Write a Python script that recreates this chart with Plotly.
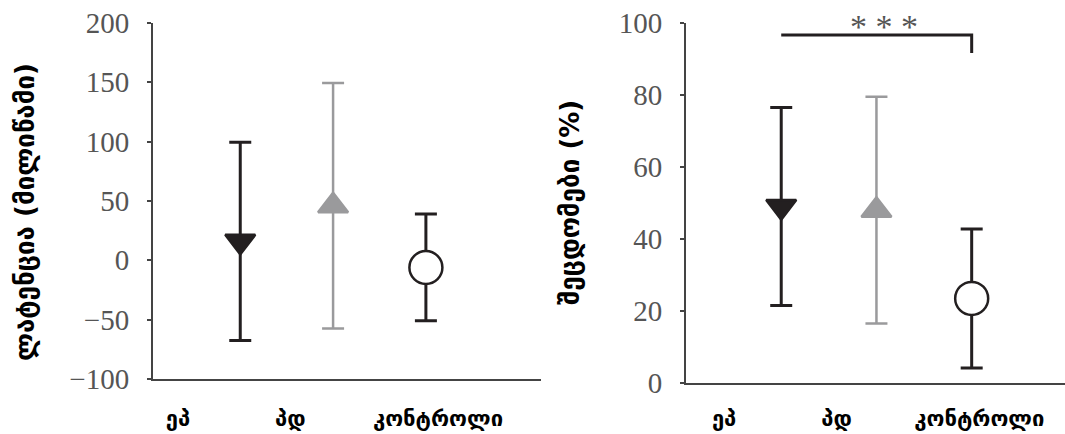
import plotly.graph_objects as go

# ---- data ----
groups = ["ეპ", "პდ", "კონტროლი"]
group_pos = [1, 2, 3]

latency_mean = [16, 46, -6]
latency_err = [83.5, 103.5, 45]

errors_mean = [49, 48, 23.5]
errors_err = [27.5, 31.5, 19.3]

left_label_pos = [0.33, 1.54, 3.13]
right_label_pos = [0.40, 1.58, 3.08]

left_ticks = [-100, -50, 0, 50, 100, 150, 200]
right_ticks = [0, 20, 40, 60, 80, 100]

bracket_x = [1, 3, 3]
bracket_y = [96.7, 96.7, 91.7]
star_x = 2.08
star_y = 99.8
star_text = "* * *"

left_title = "ლატენცია (მილიწამი)"
right_title = "შეცდომები (%)"

# ---- styles ----
BLACK = "#231f20"
GRAY = "#9a9a9c"
styles = [
    dict(symbol="triangle-down", color=BLACK, fill=BLACK, size=26, ew=3),
    dict(symbol="triangle-up", color=GRAY, fill=GRAY, size=26, ew=2.5),
    dict(symbol="circle", color=BLACK, fill="white", size=33, ew=3),
]

fig = go.Figure()


def add_panel(means, errs, xa, ya):
    for i in range(len(groups)):
        s = styles[i]
        fig.add_trace(go.Scatter(
            x=[group_pos[i]], y=[means[i]], mode="markers",
            xaxis=xa, yaxis=ya, showlegend=False, cliponaxis=False,
            error_y=dict(type="data", array=[errs[i]], visible=True,
                         color=s["color"], thickness=s["ew"], width=11),
            marker=dict(symbol=s["symbol"], size=s["size"], color=s["fill"],
                        line=dict(color=s["color"], width=2.5)),
        ))


add_panel(latency_mean, latency_err, "x", "y")
add_panel(errors_mean, errors_err, "x2", "y2")

fig.add_trace(go.Scatter(x=bracket_x, y=bracket_y, mode="lines", xaxis="x2", yaxis="y2",
                         line=dict(color=BLACK, width=3), showlegend=False))

W, H = 1065, 434
tickfont = dict(family="Liberation Serif, DejaVu Serif, serif", size=29, color="#555555")
GEO = "DejaVu Sans, sans-serif"
xfont = dict(family=GEO, size=22, color="black", weight="bold")
axis_common = dict(showline=True, linecolor="#444444", linewidth=2, showgrid=False,
                   zeroline=False, automargin=False)

fig.update_layout(
    width=W, height=H, margin=dict(l=0, r=0, t=0, b=0, pad=0),
    paper_bgcolor="white", plot_bgcolor="white",
    xaxis=dict(domain=[153 / W, 541 / W], range=[0.06, 4.24], tickvals=left_label_pos,
               ticktext=groups, ticks="", tickfont=xfont, ticklabelstandoff=19,
               anchor="y", **axis_common),
    yaxis=dict(domain=[(H - 379) / H, (H - 23) / H], range=[-100, 200], tickvals=left_ticks,
               ticks="outside", ticklen=4, tickcolor="#444444", tickwidth=1.5,
               tickfont=tickfont, ticklabelstandoff=12, anchor="x", **axis_common),
    xaxis2=dict(domain=[686 / W, 1], range=[0, 3.98], tickvals=right_label_pos,
                ticktext=groups, ticks="", tickfont=xfont, ticklabelstandoff=15,
                anchor="y2", **axis_common),
    yaxis2=dict(domain=[(H - 383) / H, (H - 23) / H], range=[0, 100], tickvals=right_ticks,
                ticks="outside", ticklen=4, tickcolor="#444444", tickwidth=1.5,
                tickfont=tickfont, ticklabelstandoff=12, anchor="x2", **axis_common),
    annotations=[
        dict(text=left_title, textangle=-90, xref="paper", yref="paper",
             x=25 / W, y=(H - 212) / H, xanchor="center", yanchor="middle", showarrow=False,
             font=dict(family=GEO, size=26, color="black", weight="bold")),
        dict(text=right_title, textangle=-90, xref="paper", yref="paper",
             x=570 / W, y=(H - 203) / H, xanchor="center", yanchor="middle", showarrow=False,
             font=dict(family=GEO, size=26, color="black", weight="bold")),
        dict(text=star_text, xref="x2", yref="y2", x=star_x, y=star_y, showarrow=False,
             yshift=-3,
             font=dict(family="Liberation Serif, serif", size=34, color="#555555")),
    ],
)

fig.write_html("out.html", config={"displayModeBar": False},
               post_script="document.body.style.margin='0';document.body.style.padding='0';")
